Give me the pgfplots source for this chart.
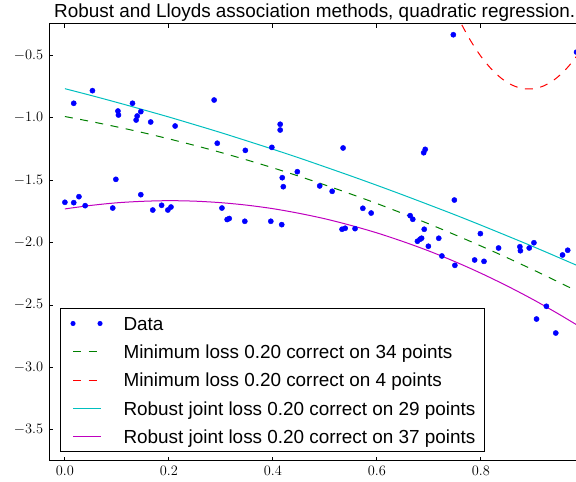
\documentclass[border=0pt]{standalone}
\usepackage{fontspec}
\setmainfont{Liberation Sans}
\usepackage{pgfplots}
\pgfplotsset{compat=1.18}
\definecolor{mplgreen}{rgb}{0,0.5,0}
\definecolor{mplcyan}{rgb}{0,0.75,0.75}
\definecolor{mplmag}{rgb}{0.75,0,0.75}
\begin{document}
\begin{tikzpicture}
\begin{axis}[
  scale only axis, width=530.9pt, height=437pt,
  xmin=-0.03, xmax=0.991, ymin=-3.75, ymax=-0.25,
  xtick={0,0.2,0.4,0.6,0.8},
  ytick={-3.5,-3,-2.5,-2,-1.5,-1,-0.5},
  minor tick num=0,
  tick align=inside,
  major tick length=4pt,
  tick style={black, line width=0.8pt},
  axis line style={black, line width=1pt},
  every tick label/.append style={inner sep=0pt, font=\fontsize{15}{18}\selectfont},
  xticklabel style={yshift=-5pt, /pgf/number format/fixed, /pgf/number format/fixed zerofill, /pgf/number format/precision=1},
  yticklabel style={xshift=-6pt, /pgf/number format/fixed, /pgf/number format/fixed zerofill, /pgf/number format/precision=1},
  scaled ticks=false,
  title={Robust and Lloyds association methods, quadratic regression.},
  title style={at={(0.5,1)}, anchor=base, yshift=0.5pt, inner sep=0pt, font=\fontsize{18.9}{22}\selectfont},
  legend cell align=left,
  legend style={at={(axis description cs:0.0202,0.0206)}, anchor=south west,
    draw=black, line width=1pt, fill=white, inner xsep=9pt, inner ysep=8pt,
    row sep=14.7pt, column sep=21pt,
    font=\fontsize{18.9}{22}\selectfont,
    nodes={inner sep=0pt, text height=13.6pt, text depth=0pt}},
  legend image code/.code={\path (0pt,0pt); \draw[#1] (3pt,0pt) -- (31pt,0pt);},
]
\addplot[only marks, mark=*, mark size=2.6pt, draw=blue, fill=blue, color=blue,
  legend image code/.code={\path (0pt,0pt); \fill[blue] (3pt,0pt) circle (2pt); \fill[blue] (30pt,0pt) circle (2pt);}]
coordinates {
(0.000,-1.678) (0.017,-0.885) (0.017,-1.681) (0.027,-1.633) (0.039,-1.705)
(0.053,-0.784) (0.092,-1.724) (0.098,-1.494) (0.102,-0.947) (0.103,-0.979)
(0.130,-0.885) (0.137,-1.019) (0.139,-0.987) (0.146,-0.952) (0.146,-1.617)
(0.165,-1.035) (0.169,-1.740) (0.186,-1.702) (0.198,-1.740) (0.204,-1.716)
(0.212,-1.067) (0.287,-0.859) (0.293,-1.205) (0.302,-1.724) (0.312,-1.816)
(0.316,-1.808) (0.346,-1.830) (0.347,-1.262) (0.396,-1.830) (0.398,-1.238)
(0.414,-1.053) (0.414,-1.099) (0.417,-1.857) (0.418,-1.481) (0.420,-1.553)
(0.447,-1.433) (0.490,-1.547) (0.514,-1.590) (0.533,-1.894) (0.539,-1.886)
(0.535,-1.243) (0.558,-1.889) (0.573,-1.726) (0.589,-1.764) (0.664,-1.785)
(0.669,-1.814) (0.691,-1.894) (0.678,-1.990) (0.683,-1.974) (0.686,-1.966)
(0.690,-1.281) (0.693,-1.254) (0.699,-2.030) (0.719,-1.966) (0.725,-2.108)
(0.747,-0.336) (0.749,-1.660) (0.750,-2.183) (0.788,-2.140) (0.799,-1.929)
(0.806,-2.151) (0.834,-2.044) (0.875,-2.034) (0.876,-2.066) (0.893,-2.044)
(0.902,-2.002) (0.907,-2.613) (0.926,-2.511) (0.944,-2.725) (0.957,-2.100)
(0.967,-2.062) (0.984,-0.475)
};
\addlegendentry{Data}
\addplot[mplgreen, line width=1pt, dash pattern=on 8pt off 7.5pt, smooth] coordinates {
(0,-0.991) (0.05,-1.031) (0.1,-1.074) (0.15,-1.120) (0.2,-1.170) (0.25,-1.223)
(0.3,-1.279) (0.35,-1.339) (0.4,-1.402) (0.45,-1.469) (0.5,-1.539) (0.55,-1.612)
(0.6,-1.688) (0.65,-1.768) (0.7,-1.851) (0.75,-1.938) (0.8,-2.028) (0.85,-2.121)
(0.9,-2.218) (0.95,-2.318) (1.0,-2.421)
};
\addlegendentry{Minimum loss 0.20 correct on 34 points}
\addplot[red, line width=1pt, dash pattern=on 8pt off 7.5pt, smooth] coordinates {
(0.75,-0.146) (0.76,-0.231) (0.78,-0.382) (0.80,-0.509) (0.82,-0.610) (0.84,-0.687)
(0.86,-0.739) (0.88,-0.767) (0.90,-0.769) (0.92,-0.747) (0.94,-0.700) (0.96,-0.628)
(0.98,-0.531) (1.0,-0.409)
};
\addlegendentry{Minimum loss 0.20 correct on 4 points}
\addplot[mplcyan, line width=1pt, smooth] coordinates {
(0,-0.768) (0.05,-0.822) (0.1,-0.878) (0.15,-0.936) (0.2,-0.995) (0.25,-1.057)
(0.3,-1.120) (0.35,-1.186) (0.4,-1.253) (0.45,-1.322) (0.5,-1.394) (0.55,-1.467)
(0.6,-1.542) (0.65,-1.619) (0.7,-1.698) (0.75,-1.778) (0.8,-1.861) (0.85,-1.946)
(0.9,-2.032) (0.95,-2.121) (1.0,-2.211)
};
\addlegendentry{Robust joint loss 0.20 correct on 29 points}
\addplot[mplmag, line width=1pt, smooth] coordinates {
(0,-1.731) (0.05,-1.703) (0.1,-1.682) (0.15,-1.670) (0.2,-1.665) (0.25,-1.669)
(0.3,-1.681) (0.35,-1.701) (0.4,-1.729) (0.45,-1.766) (0.5,-1.810) (0.55,-1.863)
(0.6,-1.923) (0.65,-1.992) (0.7,-2.068) (0.75,-2.153) (0.8,-2.246) (0.85,-2.347)
(0.9,-2.456) (0.95,-2.574) (1.0,-2.699)
};
\addlegendentry{Robust joint loss 0.20 correct on 37 points}
\end{axis}
\pgfresetboundingbox
\path[use as bounding box] ([xshift=-49.3pt,yshift=-21pt]current axis.south west) rectangle ([xshift=526.7pt,yshift=24pt]current axis.north west);
\end{tikzpicture}
\end{document}
